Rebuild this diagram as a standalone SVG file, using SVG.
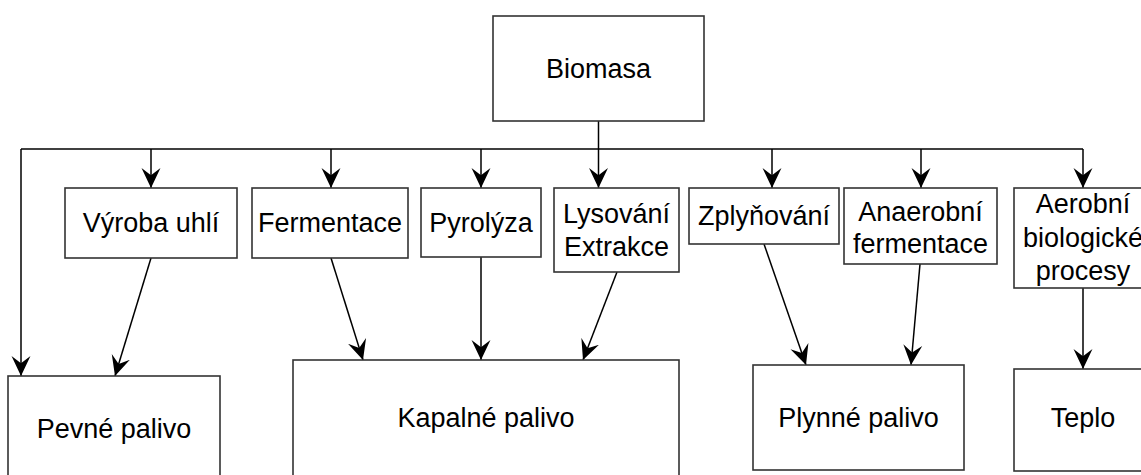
<svg xmlns="http://www.w3.org/2000/svg" width="1141" height="475" viewBox="0 0 1141 475">
<style>
.box{fill:#ffffff;stroke:#333333;stroke-width:1.6}
.t{font-family:"Liberation Sans",Arial,sans-serif;font-size:27px;fill:#000000;text-anchor:middle}
.c{fill:none;stroke:#000000;stroke-width:1.5}
</style>
<defs>
<marker id="arr" markerUnits="userSpaceOnUse" markerWidth="20" markerHeight="20" viewBox="0 0 19 18" refX="19" refY="9" orient="auto">
<path d="M19 9 L0 0 L7 9 L0 18 Z" fill="#000000"/>
</marker>
</defs>
<rect width="1141" height="475" fill="#ffffff"/>
<g id="connectors">
<line class="c" x1="21" y1="149" x2="1083" y2="149"/>
<line class="c" x1="598.5" y1="121" x2="598.5" y2="149"/>
<line class="c" x1="21" y1="149" x2="21" y2="376" marker-end="url(#arr)"/>
<line class="c" x1="151" y1="149" x2="151" y2="188" marker-end="url(#arr)"/>
<line class="c" x1="331" y1="149" x2="331" y2="188" marker-end="url(#arr)"/>
<line class="c" x1="481" y1="149" x2="481" y2="188" marker-end="url(#arr)"/>
<line class="c" x1="598.5" y1="149" x2="598.5" y2="188" marker-end="url(#arr)"/>
<line class="c" x1="772" y1="149" x2="772" y2="188" marker-end="url(#arr)"/>
<line class="c" x1="921" y1="149" x2="921" y2="188" marker-end="url(#arr)"/>
<line class="c" x1="1083" y1="149" x2="1083" y2="188" marker-end="url(#arr)"/>
<line class="c" x1="151" y1="258" x2="115" y2="376" marker-end="url(#arr)"/>
<line class="c" x1="331" y1="258" x2="363" y2="360" marker-end="url(#arr)"/>
<line class="c" x1="481" y1="257" x2="481" y2="360" marker-end="url(#arr)"/>
<line class="c" x1="617" y1="272" x2="583" y2="360" marker-end="url(#arr)"/>
<line class="c" x1="764" y1="244" x2="806" y2="365" marker-end="url(#arr)"/>
<line class="c" x1="920" y1="264" x2="911" y2="365" marker-end="url(#arr)"/>
<line class="c" x1="1083" y1="288" x2="1083" y2="369" marker-end="url(#arr)"/>
</g>
<g id="biomasa"><rect class="box" x="493" y="16" width="211" height="105"/><text class="t" x="598.5" y="78">Biomasa</text></g>
<g id="vyroba-uhli"><rect class="box" x="65" y="188" width="172" height="70"/><text class="t" x="151" y="232">Výroba uhlí</text></g>
<g id="fermentace"><rect class="box" x="252" y="188" width="156" height="70"/><text class="t" x="330" y="232">Fermentace</text></g>
<g id="pyrolyza"><rect class="box" x="421" y="188" width="120" height="69"/><text class="t" x="481" y="232">Pyrolýza</text></g>
<g id="lysovani"><rect class="box" x="554" y="188" width="125" height="84"/><text class="t" x="616.5" y="223">Lysování</text><text class="t" x="616.5" y="256">Extrakce</text></g>
<g id="zplynovani"><rect class="box" x="689" y="188" width="150" height="56"/><text class="t" x="764" y="225">Zplyňování</text></g>
<g id="anaerobni"><rect class="box" x="844" y="188" width="153" height="76"/><text class="t" x="920.5" y="221">Anaerobní</text><text class="t" x="920.5" y="253">fermentace</text></g>
<g id="aerobni"><rect class="box" x="1014" y="188" width="138" height="100"/><text class="t" x="1083" y="213">Aerobní</text><text class="t" x="1083" y="247">biologické</text><text class="t" x="1083" y="280">procesy</text></g>
<g id="pevne"><rect class="box" x="8" y="376" width="212" height="110"/><text class="t" x="114" y="438">Pevné palivo</text></g>
<g id="kapalne"><rect class="box" x="293" y="360" width="386" height="125"/><text class="t" x="486" y="427">Kapalné palivo</text></g>
<g id="plynne"><rect class="box" x="753" y="365" width="211" height="105"/><text class="t" x="858.5" y="427">Plynné palivo</text></g>
<g id="teplo"><rect class="box" x="1014" y="369" width="138" height="102"/><text class="t" x="1083" y="427">Teplo</text></g>
</svg>
